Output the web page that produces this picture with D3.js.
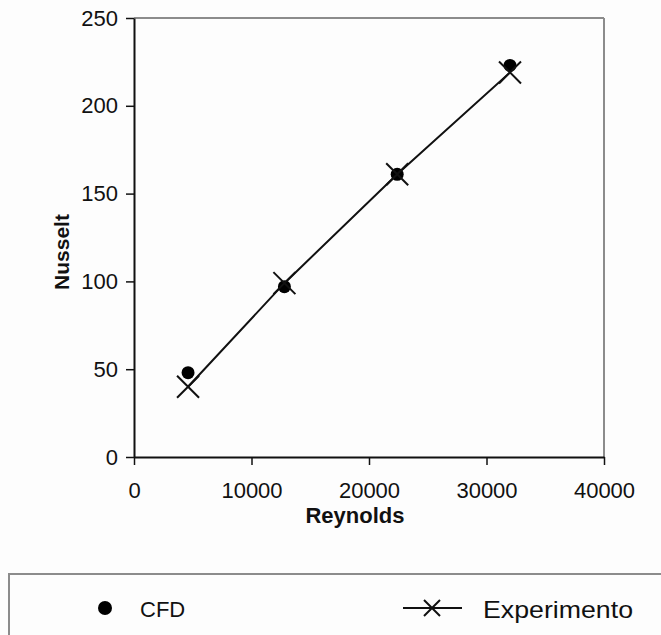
<!DOCTYPE html>
<html>
<head>
<meta charset="utf-8">
<title>Nusselt x Reynolds</title>
<style>
  body { margin: 0; background: #fdfdfd; }
  svg { display: block; }
  text { font-family: "Liberation Sans", Arial, sans-serif; fill: #111; }
</style>
</head>
<body>
<script src="https://d3js.org/d3.v7.min.js"></script>
<script>

// data
var reynolds = [4600, 12800, 22400, 32000];
var nusseltCFD = [48, 97, 161, 223];
var nusseltExp = [40, 99, 161, 219];
var xTicks = [0, 10000, 20000, 30000, 40000];
var yTicks = [0, 50, 100, 150, 200, 250];
var seriesNames = ["CFD", "Experimento"];

var W = 661, H = 635;
var margin = {top: 18, right: 57, bottom: 178, left: 134},
    width = W - margin.left - margin.right,
    height = H - margin.top - margin.bottom;

var x = d3.scaleLinear().domain([0, 40000]).range([0, width]);
var y = d3.scaleLinear().domain([0, 250]).range([height, 0]);

var svg = d3.select("body").append("svg")
  .attr("width", W)
  .attr("height", H);

var g = svg.append("g")
  .attr("transform", "translate(" + margin.left + "," + margin.top + ")");

// grey frame on top and right
g.append("line")
  .attr("x1", x(0)).attr("x2", x(40000))
  .attr("y1", y(250)).attr("y2", y(250))
  .attr("stroke", "#8c8c8c").attr("stroke-width", 2);
g.append("line")
  .attr("x1", x(40000)).attr("x2", x(40000))
  .attr("y1", y(250)).attr("y2", y(0))
  .attr("stroke", "#8c8c8c").attr("stroke-width", 2);

// axes
var xAxis = g.append("g")
  .attr("transform", "translate(0," + height + ")")
  .call(d3.axisBottom(x).tickValues(xTicks).tickFormat(d3.format("d")).tickSize(8).tickSizeOuter(0).tickPadding(17));
var yAxis = g.append("g")
  .call(d3.axisLeft(y).tickValues(yTicks).tickSize(8).tickSizeOuter(0).tickPadding(8));

[xAxis, yAxis].forEach(function(a) {
  a.select(".domain").attr("stroke", "#111").attr("stroke-width", 2);
  a.selectAll(".tick line").attr("stroke", "#111").attr("stroke-width", 1.5);
  a.selectAll(".tick text")
    .style("font-size", "22px")
    .attr("fill", "#111");
});

// axis titles
svg.append("text")
  .attr("x", 355)
  .attr("y", 523)
  .attr("text-anchor", "middle")
  .style("font-size", "22px")
  .style("font-weight", "bold")
  .text("Reynolds");

svg.append("text")
  .attr("transform", "translate(69,252) rotate(-90)")
  .attr("text-anchor", "middle")
  .style("font-size", "21px")
  .style("font-weight", "bold")
  .text("Nusselt");

// experiment line with x markers
var expData = reynolds.map(function(r, i) { return {x: r, y: nusseltExp[i]}; });
var cfdData = reynolds.map(function(r, i) { return {x: r, y: nusseltCFD[i]}; });

var line = d3.line()
  .x(function(d) { return x(d.x); })
  .y(function(d) { return y(d.y); });

g.append("path")
  .datum(expData)
  .attr("d", line)
  .attr("fill", "none")
  .attr("stroke", "#111")
  .attr("stroke-width", 2);

function cross(sel, s) {
  sel.append("path")
    .attr("d", "M" + (-s) + "," + (-s) + "L" + s + "," + s + "M" + (-s) + "," + s + "L" + s + "," + (-s))
    .attr("stroke", "#111")
    .attr("stroke-width", 2)
    .attr("fill", "none");
}

g.selectAll(".cfd")
  .data(cfdData)
  .enter().append("circle")
  .attr("class", "cfd")
  .attr("cx", function(d) { return x(d.x); })
  .attr("cy", function(d) { return y(d.y); })
  .attr("r", 6.5)
  .attr("fill", "#000");

g.selectAll(".exp")
  .data(expData)
  .enter().append("g")
  .attr("class", "exp")
  .attr("transform", function(d) { return "translate(" + x(d.x) + "," + y(d.y) + ")"; })
  .call(cross, 11);

// legend box
var legend = svg.append("g");
legend.append("rect")
  .attr("x", 9)
  .attr("y", 574)
  .attr("width", 700)
  .attr("height", 120)
  .attr("fill", "none")
  .attr("stroke", "#8c8c8c")
  .attr("stroke-width", 2);

legend.append("circle")
  .attr("cx", 105)
  .attr("cy", 608)
  .attr("r", 7)
  .attr("fill", "#000");
legend.append("text")
  .attr("x", 140)
  .attr("y", 617)
  .style("font-size", "22px")
  .text(seriesNames[0]);

legend.append("line")
  .attr("x1", 403).attr("x2", 462)
  .attr("y1", 608).attr("y2", 608)
  .attr("stroke", "#111")
  .attr("stroke-width", 2);
legend.append("g")
  .attr("transform", "translate(432,608)")
  .call(cross, 8);
legend.append("text")
  .attr("x", 483)
  .attr("y", 618)
  .attr("textLength", 150)
  .attr("lengthAdjust", "spacingAndGlyphs")
  .style("font-size", "24px")
  .text(seriesNames[1]);

</script>
</body>
</html>
